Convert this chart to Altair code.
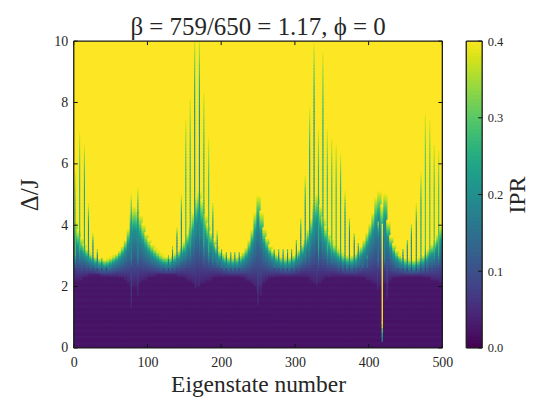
import altair as alt
import pandas as pd

alt.data_transformers.disable_max_rows()

FONT = "Liberation Serif"
INK = "#262626"
W, H = 370, 308

# Contour levels of the surface, one value per 4-state-wide column
col_x = list(range(2, 500, 4))
d_yellow = [4.1,3.8,3.55,3.35,3.2,3.08,3.0,2.95,2.9,2.87,2.85,2.87,2.92,2.98,3.05,3.15,3.3,3.5,3.85,4.4,4.6,4.5,4.3,4.0,3.7,
3.5,3.35,3.22,3.12,3.03,2.97,2.95,2.95,3.0,3.07,3.15,3.3,3.45,3.7,4.0,4.4,4.9,5.1,4.8,4.3,4.0,3.75,3.5,3.3,3.15,
3.05,2.98,2.95,2.93,2.93,2.95,3.0,3.1,3.25,3.5,3.85,4.4,4.95,4.4,3.85,3.55,3.3,3.15,3.05,3.0,2.96,2.93,2.93,2.95,3.0,
3.08,3.2,3.35,3.55,3.85,4.2,4.7,5.0,4.6,4.2,3.9,3.7,3.5,3.35,3.22,3.12,3.04,3.0,2.98,3.0,3.05,3.15,3.3,3.5,3.75,
4.05,4.4,4.9,5.1,4.6,5.0,4.1,3.6,3.35,3.15,3.02,2.95,2.9,2.87,2.85,2.85,2.87,2.92,3.0,3.08,3.2,3.35,3.5,3.7,3.95]
d_teal = [3.4,3.25,3.1,3.0,2.9,2.82,2.75,2.7,2.66,2.63,2.62,2.64,2.68,2.74,2.8,2.88,2.98,3.12,3.35,3.7,3.8,3.75,3.6,3.4,3.22,
3.08,2.98,2.9,2.82,2.75,2.7,2.68,2.68,2.72,2.78,2.86,2.96,3.08,3.25,3.45,3.7,4.0,4.2,3.95,3.65,3.45,3.28,3.12,2.98,2.87,
2.78,2.72,2.68,2.66,2.66,2.68,2.72,2.8,2.92,3.08,3.35,3.7,4.1,3.7,3.35,3.15,2.98,2.86,2.78,2.72,2.68,2.66,2.66,2.68,2.72,
2.79,2.88,3.0,3.15,3.35,3.6,3.9,4.1,3.85,3.6,3.4,3.2,3.08,2.98,2.88,2.8,2.74,2.7,2.68,2.7,2.75,2.83,2.96,3.1,3.28,
3.5,3.75,4.05,4.2,3.8,4.1,3.55,3.2,2.98,2.84,2.74,2.68,2.63,2.6,2.58,2.58,2.6,2.64,2.7,2.78,2.88,3.0,3.12,3.25,3.4]
d_purple = [2.15,2.18,2.2,2.25,2.28,2.32,2.33,2.33,2.32,2.3,2.3,2.3,2.28,2.28,2.28,2.25,2.22,2.18,2.1,2.0,1.95,2.0,2.08,2.15,2.2,
2.25,2.28,2.3,2.32,2.33,2.33,2.33,2.33,2.32,2.32,2.3,2.28,2.25,2.2,2.12,2.05,2.0,2.0,2.02,2.1,2.15,2.2,2.25,2.28,2.3,
2.3,2.3,2.3,2.3,2.3,2.3,2.28,2.25,2.2,2.12,2.05,1.95,1.8,1.95,2.08,2.15,2.22,2.25,2.28,2.3,2.3,2.3,2.3,2.3,2.3,
2.3,2.3,2.3,2.28,2.22,2.15,2.08,2.05,2.1,2.18,2.22,2.25,2.28,2.3,2.3,2.3,2.3,2.3,2.3,2.3,2.28,2.28,2.25,2.22,2.18,
2.12,2.08,2.02,2.0,2.0,2.02,2.1,2.18,2.22,2.25,2.28,2.3,2.3,2.3,2.3,2.3,2.3,2.3,2.28,2.25,2.22,2.18,2.15,2.12,2.1]
row_ipr = [0.018,0.022,0.018,0.023,0.018,0.022,0.018,0.023,0.018,0.022,0.019,0.023,0.019,0.023,0.02,0.024,
           0.02,0.024,0.02,0.025,0.021,0.026,0.023,0.028]

# Narrow spikes: position, top of the spike, its colour value
spike_x = [2,8,14.5,20,26,32,38,44,78,87,122,128.5,134,140,146,152,158,164,170.5,176.5,183,188.7,194.6,200.5,207,213,218.5,224.5,
           272,278,284,290,295.5,302,308,314,320,326,332,338,344,350,356,362,368,374,380.5,386,392,398,413,422,
           440,446.6,452.5,458,464.7,471,477,483,489,495]
spike_top = [5.6,6.9,6.5,4.6,3.65,3.15,2.85,2.6,4.9,5.1,2.7,2.95,3.25,3.85,4.9,7.3,8.0,10,10,8.2,6.7,4.65,3.75,3.2,3.1,3.1,3.1,3.1,
             3.2,3.2,3.2,3.2,3.2,3.5,4.2,5.5,7.7,9.8,7.0,9.5,7.0,6.7,6.5,6.2,5.0,4.2,3.7,3.4,3.2,3.0,4.05,4.9,
             2.9,3.2,3.5,4.0,4.6,5.6,7.5,7.3,6.5,6.3]
spike_ipr = [0.3,0.27,0.24,0.2,0.17,0.16,0.16,0.15,0.2,0.2,0.15,0.15,0.16,0.17,0.19,0.27,0.26,0.2,0.2,0.26,0.27,0.2,0.18,0.17,0.17,0.17,0.17,0.17,
             0.17,0.17,0.17,0.17,0.17,0.17,0.18,0.2,0.22,0.2,0.25,0.24,0.27,0.27,0.27,0.24,0.2,0.18,0.17,0.16,0.16,0.15,0.16,0.2,
             0.16,0.16,0.17,0.18,0.2,0.24,0.28,0.28,0.28,0.28]

# Pale blue tongues reaching into the purple region
tongue_x = [78,87,165,170,250,254,330,412,425]
tongue_lo = [1.3,1.7,1.95,2.0,1.4,1.7,2.0,1.9,1.6]
tongue_hi = [3.4,3.4,3.5,3.5,3.4,3.2,3.5,3.4,2.8]

# The single bright state
odd_x = 418.5
odd_lo = [0.2,0.35,0.5,0.65]
odd_ipr = [0.18,0.24,0.3,0.37]
odd_top = 4.05

x_ticks = [0,100,200,300,400,500]
y_ticks = [0,2,4,6,8,10]
cb_ticks = [0.0,0.1,0.2,0.3,0.4]
cb_levels = [i/200 for i in range(80)]

cells = []
def add(x, w, y, h, v):
    cells.append(dict(x=x, x2=x+w, y=y, y2=y+h, v=v))

for cx, hi, mi, lo in zip(col_x, d_yellow, d_teal, d_purple):
    y = 0.0
    i = 0
    while y < lo:
        add(cx-2, 5.4, y, 0.14, row_ipr[min(i, len(row_ipr)-1)])
        y += 0.1; i += 1
    while y < hi:
        if y < mi:
            v = 0.035 + 0.165*((y-lo)/max(mi-lo, .01))**1.15
        else:
            v = 0.2 + 0.2*(y-mi)/max(hi-mi, .01)
        add(cx-2, 5.4, y, 0.08, min(v, .4))
        y += 0.05

for sx_, lo, hi in zip(tongue_x, tongue_lo, tongue_hi):
    y = lo
    while y < hi:
        add(sx_-0.7, 1.4, y, 0.12, 0.05 + 0.08*(y-lo)/(hi-lo))
        y += 0.1

for sx_, top, v in zip(spike_x, spike_top, spike_ipr):
    y = 2.5
    while y < top:
        f = (y-2.5)/max(top-2.5, .01)
        if f < 0.15:
            val = 0.07 + (v-0.07)*f/0.15
        elif f < 0.6:
            val = v
        else:
            val = v + (0.38-v)*((f-0.6)/0.4)**1.5
        add(sx_-0.75, 1.5, y, 0.12, val)
        y += 0.1

for lo, v in zip(odd_lo, odd_ipr):
    add(odd_x-0.9, 1.8, lo, 0.17, v)
add(odd_x-0.9, 1.8, 0.8, odd_top-0.8, 0.4)

df = pd.DataFrame(cells)
cscale = alt.Scale(scheme="viridis", domain=[0, 0.4], clamp=True)
sx = alt.Scale(domain=[0, 500], nice=False, zero=False)
sy = alt.Scale(domain=[0, 10], nice=False, zero=False)

heat = alt.Chart(df).mark_rect(clip=True, strokeWidth=0, opacity=1).encode(
    x=alt.X("x:Q", scale=sx, axis=alt.Axis(values=x_ticks, ticks=False, domain=False, grid=False,
            title="Eigenstate number", labelFontSize=14, titleFontSize=23.5, titleFont=FONT, labelFont=FONT,
            labelColor=INK, titleColor=INK, titleFontWeight="normal", labelPadding=8, titlePadding=3, labelFlush=False)),
    x2="x2:Q",
    y=alt.Y("y:Q", scale=sy, axis=alt.Axis(values=y_ticks, ticks=False, domain=False, grid=False,
            title="Δ/J", labelFontSize=14, titleFontSize=25, titleFont=FONT, labelFont=FONT,
            labelColor=INK, titleColor=INK, titleFontWeight="normal", labelPadding=6, titlePadding=11, labelFlush=False)),
    y2="y2:Q",
    color=alt.Color("v:Q", scale=cscale, legend=None),
)

xt = alt.Chart(pd.DataFrame({"t": x_ticks}))
yt = alt.Chart(pd.DataFrame({"t": y_ticks}))
tick = dict(color="#111111", strokeWidth=1)
ticks = [
    xt.mark_rule(**tick).encode(x=alt.X("t:Q", scale=sx), y=alt.value(H), y2=alt.value(H-4)),
    xt.mark_rule(**tick).encode(x=alt.X("t:Q", scale=sx), y=alt.value(0), y2=alt.value(4)),
    yt.mark_rule(**tick).encode(y=alt.Y("t:Q", scale=sy), x=alt.value(0), x2=alt.value(4)),
    yt.mark_rule(**tick).encode(y=alt.Y("t:Q", scale=sy), x=alt.value(W), x2=alt.value(W-4)),
]
def frame(w, h):
    f = dict(color="#1a1a1a", strokeWidth=1.3)
    d = alt.Chart(pd.DataFrame({"a": [0]}))
    return [
        d.mark_rule(**f).encode(x=alt.value(0), x2=alt.value(w), y=alt.value(0)),
        d.mark_rule(**f).encode(x=alt.value(0), x2=alt.value(w), y=alt.value(h)),
        d.mark_rule(**f).encode(y=alt.value(0), y2=alt.value(h), x=alt.value(0)),
        d.mark_rule(**f).encode(y=alt.value(0), y2=alt.value(h), x=alt.value(w)),
    ]

main = alt.layer(heat, *ticks, *frame(W, H)).properties(
    width=W, height=H,
    title=alt.TitleParams("β = 759/650 = 1.17, ϕ = 0", font=FONT, fontSize=25, fontWeight="normal",
                          color=INK, anchor="middle", offset=-6),
)

cb_df = pd.DataFrame({"v": cb_levels, "v2": [v+0.0065 for v in cb_levels]})
scb = alt.Scale(domain=[0, 0.4], nice=False, zero=False)
bar = alt.Chart(cb_df).mark_rect(clip=True, strokeWidth=0).encode(
    x=alt.value(0), x2=alt.value(16),
    y=alt.Y("v:Q", scale=scb, axis=alt.Axis(orient="right", values=cb_ticks, format=".1f", ticks=False, domain=False,
            grid=False, title="IPR", titleAngle=270, titleFontSize=24, labelFontSize=12.5, titleFont=FONT, labelFont=FONT,
            labelColor=INK, titleColor=INK, titleFontWeight="normal", labelPadding=5, titlePadding=27, labelFlush=False)),
    y2="v2:Q",
    color=alt.Color("v:Q", scale=cscale, legend=None),
)
cbt = alt.Chart(pd.DataFrame({"t": cb_ticks})).mark_rule(**tick).encode(
    y=alt.Y("t:Q", scale=scb), x=alt.value(16), x2=alt.value(12))
cbar = alt.layer(bar, cbt, *frame(16, H)).properties(width=16, height=H)

chart = alt.hconcat(main, cbar, spacing=12).resolve_scale(color="independent").properties(
    padding={"left": 10, "top": 6.5, "right": 0, "bottom": 0}, background="white"
).configure_view(stroke=None, fill="#fde725")

chart.save("out.html", embed_options={"renderer": "svg", "actions": False})
